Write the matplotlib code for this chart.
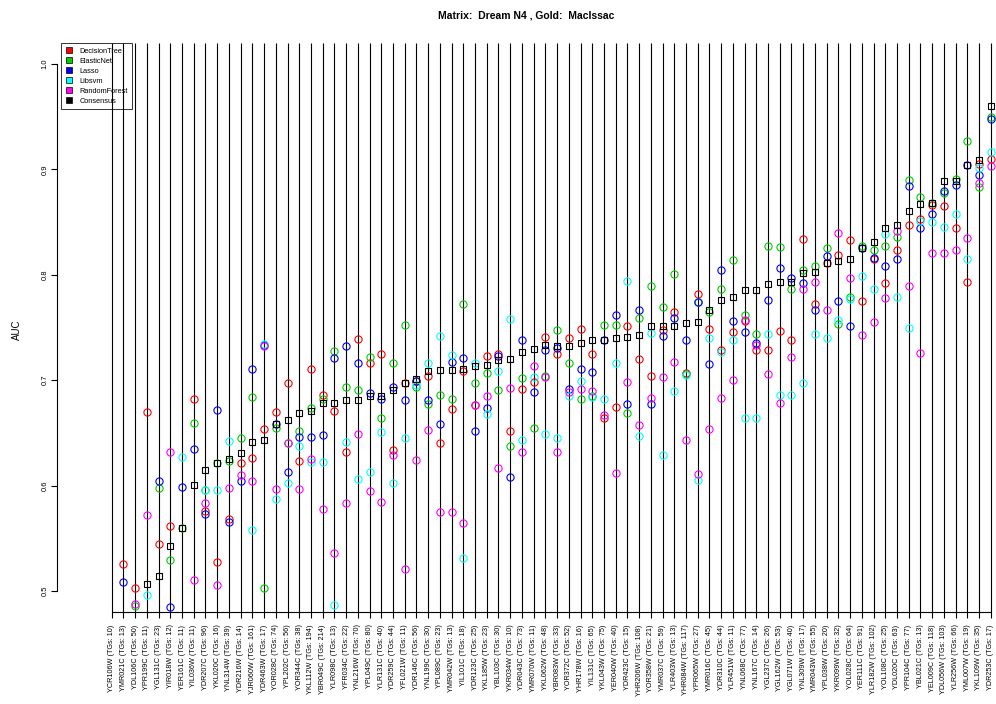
import numpy as np
import matplotlib
matplotlib.use("Agg")
import matplotlib.pyplot as plt
from matplotlib.lines import Line2D

n = np.nan

categories = [
    "YCR106W (TGs: 10)", "YMR021C (TGs: 13)", "YDL106C (TGs: 50)", "YPR199C (TGs: 11)",
    "YGL131C (TGs: 23)", "YIR018W (TGs: 12)", "YER161C (TGs: 11)", "YIL036W (TGs: 11)",
    "YDR207C (TGs: 96)", "YKL020C (TGs: 16)", "YNL314W (TGs: 39)", "YDR216W (TGs: 14)",
    "YJR060W (TGs: 161)", "YDR463W (TGs: 17)", "YOR028C (TGs: 74)", "YPL202C (TGs: 56)",
    "YOR344C (TGs: 38)", "YKL112W (TGs: 194)", "YBR049C (TGs: 214)",
    "YLR098C (TGs: 13)", "YFR034C (TGs: 22)", "YNL216W (TGs: 70)", "YPL049C (TGs: 80)",
    "YLR131C (TGs: 40)", "YDR259C (TGs: 44)", "YFL021W (TGs: 11)", "YDR146C (TGs: 56)",
    "YNL199C (TGs: 30)", "YPL089C (TGs: 23)", "YMR042W (TGs: 13)", "YIL101C (TGs: 18)",
    "YDR123C (TGs: 25)", "YKL185W (TGs: 23)", "YBL103C (TGs: 30)", "YKR034W (TGs: 10)",
    "YDR043C (TGs: 73)", "YMR070W (TGs: 11)", "YKL062W (TGs: 48)",
    "YBR083W (TGs: 33)", "YOR372C (TGs: 52)", "YHR178W (TGs: 16)", "YIL131C (TGs: 65)",
    "YKL043W (TGs: 75)", "YER040W (TGs: 40)", "YDR423C (TGs: 15)", "YHR206W (TGs: 108)",
    "YOR358W (TGs: 21)", "YMR037C (TGs: 59)", "YLR403W (TGs: 13)", "YHR084W (TGs: 117)",
    "YPR065W (TGs: 27)", "YMR016C (TGs: 45)", "YDR310C (TGs: 44)", "YLR451W (TGs: 11)",
    "YNL068C (TGs: 77)", "YNL167C (TGs: 14)", "YGL237C (TGs: 26)",
    "YGL162W (TGs: 53)", "YGL071W (TGs: 40)", "YNL309W (TGs: 17)", "YMR043W (TGs: 55)",
    "YPL038W (TGs: 20)", "YKR099W (TGs: 32)", "YOL028C (TGs: 64)", "YER111C (TGs: 91)",
    "YLR182W (TGs: 102)", "YOL108C (TGs: 25)", "YDL020C (TGs: 63)", "YPR104C (TGs: 77)",
    "YBL021C (TGs: 13)", "YEL009C (TGs: 118)", "YDL056W (TGs: 103)", "YLR256W (TGs: 66)",
    "YML007W (TGs: 19)", "YKL109W (TGs: 35)", "YDR253C (TGs: 17)",
]

# NaN = value not visible in the reference (below the plotted range)
decision_tree = [
    n, .526, .503, .670, .545, .562, n, .682, .576, .527, .568, .621, .626, .654, .670, .697,
    .623, .711, .686, .671, .632, .739, .716, .725, .634, .697, .699, .704, .640, .673, .709,
    .676, .723, .725, .652, .692, .698, .741, .725, .740, .749, .725, .664, .675, .751, .720,
    .704, .748, .765, .707, .782, .749, .729, .746, .756, .729, .729, .747, .738, .834, .772,
    .811, .819, .833, .775, .815, .792, .824, .847, .853, .866, .865, .844, .793, .905, .910,
]
elastic_net = [
    n, n, .486, n, .598, .529, .560, .659, .596, .621, .623, .645, .684, .503, .655, .640,
    .652, .674, .682, .728, .694, .691, .722, .664, .716, .752, .694, .677, .686, .682, .772,
    .697, .707, .691, .638, .702, .655, .704, .748, .716, .682, .685, .752, .752, .669, .759,
    .789, .769, .801, .706, .774, .765, .787, .814, .762, .744, .827, .826, .787, .805, .808,
    .825, .753, .779, .827, .824, .827, .836, .890, .874, .868, .878, .891, .927, .883, .950,
]
lasso = [
    n, .508, n, n, .604, .485, .599, .635, .573, .672, .565, .604, .711, .733, .658, .613,
    .646, .646, .648, .721, .732, .716, .688, .682, .694, .681, .699, .681, .658, .717, .721,
    .652, .674, .723, .608, .738, .689, .729, .731, .692, .711, .708, .738, .762, .677, .767,
    .677, .742, .759, .738, .774, .715, .805, .756, .746, .735, .776, .806, .797, .792, .767,
    .818, .775, .751, .825, .816, .808, .815, .884, .844, .858, .880, .885, .904, .895, .948,
]
libsvm = [
    n, n, n, .496, n, n, .627, n, .596, .596, .642, n, .558, .734, .587, .602,
    .638, .622, .622, .487, .641, .606, .613, .651, .602, .645, .695, .716, .742, .724, .531,
    .716, .668, .709, .758, .643, .703, .649, .645, .685, .699, .684, .682, .716, .794, .647,
    .745, .629, .690, .705, .605, .740, .727, .738, .664, .664, .744, .686, .686, .697, .744,
    .740, .757, .777, .799, .787, .839, .779, .750, .851, .850, .845, .858, .815, .901, .917,
]
random_forest = [
    n, n, .488, .572, n, .632, n, .510, .583, .506, .598, .610, .604, .732, .597, .640,
    .597, .625, .578, .536, .583, .649, .595, .584, .629, .521, .624, .653, .575, .575, .564,
    .676, .685, .617, .693, .632, .713, .703, .632, .689, .692, .690, .667, .612, .698, .657,
    .683, .703, .717, .643, .611, .654, .683, .700, .757, .733, .706, .678, .722, .787, .793,
    .767, .840, .797, .743, .755, .778, .842, .789, .726, .821, .821, .824, .835, .887, .903,
]
consensus = [
    n, n, n, .507, .514, .543, .560, .601, .615, .621, .625, .631, .641, .643, .658, .662,
    .669, .671, .678, .678, .681, .681, .685, .685, .691, .697, .701, .709, .710, .710, .711,
    .713, .714, .719, .720, .727, .730, .733, .732, .732, .735, .738, .738, .740, .741, .743,
    .751, .751, .751, .754, .755, .767, .776, .779, .786, .786, .791, .793, .793, .802, .803,
    .811, .813, .815, .825, .831, .844, .847, .861, .867, .868, .889, .889, .904, .909, .960,
]

methods = ["DecisionTree", "ElasticNet", "Lasso", "Libsvm", "RandomForest"]
series = [decision_tree, elastic_net, lasso, libsvm, random_forest]
colors = ["#FF0000", "#00CD00", "#0000FF", "#00FFFF", "#FF00FF"]

plt.rcParams["font.family"] = ["Liberation Sans", "DejaVu Sans"]

W, H = 996, 704
fig = plt.figure(figsize=(W / 100, H / 100), dpi=100)
L, R, T, B = 57, 996, 43, 612
ax = fig.add_axes([L / W, 1 - B / H, (R - L) / W, (B - T) / H])

x = np.arange(len(categories))
step = 11.72
x0 = 111.7
ax.set_xlim((L - x0) / step, (R - x0) / step)
ax.set_ylim(0.48, 1.02)

ax.vlines(x, 0.48, 1.02, colors="black", linewidth=0.8, zorder=1)

for vals, col in zip(series, colors):
    ax.plot(x, vals, linestyle="none", marker="o", markersize=5.2,
            markerfacecolor="none", markeredgecolor=col, markeredgewidth=0.8, zorder=3)
ax.plot(x, consensus, linestyle="none", marker="s", markersize=4.6,
        markerfacecolor="none", markeredgecolor="black", markeredgewidth=0.8, zorder=4)

for s in ["top", "right"]:
    ax.spines[s].set_visible(False)
ax.spines["left"].set_bounds(0.5, 1.0)
ax.spines["bottom"].set_bounds(0, len(categories) - 1)
ax.spines["left"].set_linewidth(0.8)
ax.spines["bottom"].set_linewidth(0.8)

ax.set_yticks([0.5, 0.6, 0.7, 0.8, 0.9, 1.0])
ax.set_yticklabels(["0.5", "0.6", "0.7", "0.8", "0.9", "1.0"], rotation=90, va="center")
ax.tick_params(axis="y", length=4, width=0.8, labelsize=5.5, pad=2)
ax.set_xticks(x)
ax.set_xticklabels(categories, rotation=90, ha="center", va="top")
ax.tick_params(axis="x", length=4, width=0.8, labelsize=5.2, pad=5)

fig.text(17 / W, 1 - 330 / H, "AUC", rotation=90, ha="center", va="center", fontsize=7)
fig.text(526 / W, 1 - 16 / H, "Matrix:  Dream N4 , Gold:  MacIssac",
         ha="center", va="center", fontsize=7.5, fontweight="bold")

handles = [Line2D([], [], linestyle="none", marker="s", markersize=4,
                  markerfacecolor=c, markeredgecolor="black", markeredgewidth=0.5)
           for c in colors + ["black"]]
leg = ax.legend(handles, methods + ["Consensus"], loc="upper left",
                bbox_to_anchor=(0.004, 1.0), borderaxespad=0, fontsize=5.3,
                frameon=True, fancybox=False, handlelength=1.0, handletextpad=0.9,
                labelspacing=0.4, borderpad=0.6)
leg.get_frame().set_edgecolor("black")
leg.get_frame().set_linewidth(0.7)
leg.get_frame().set_facecolor("none")

fig.savefig("out.png", dpi=100)
